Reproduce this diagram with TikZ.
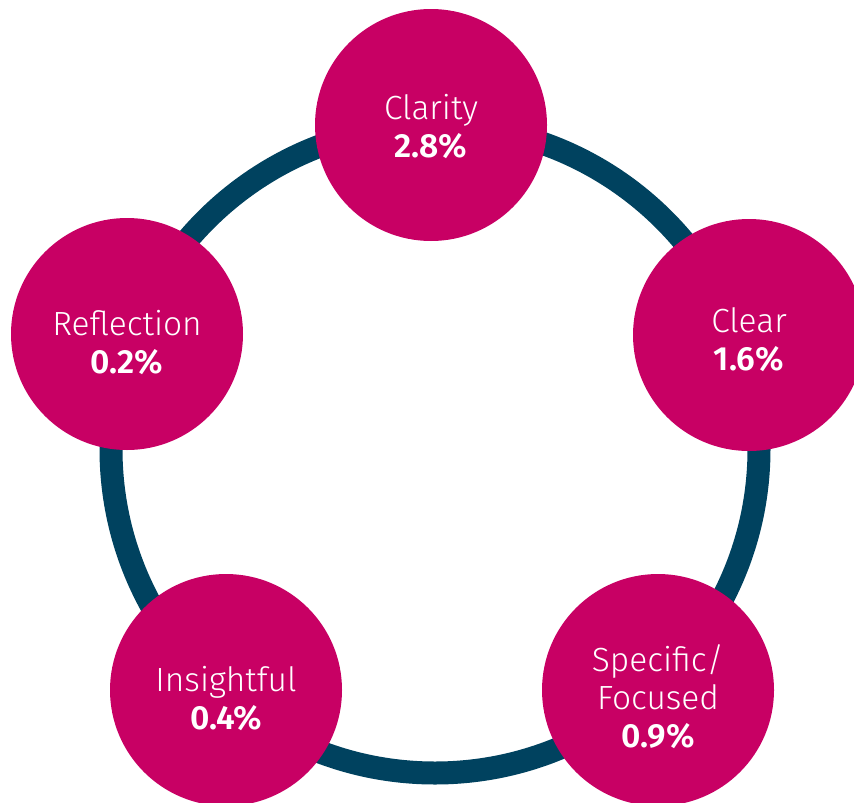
\documentclass[tikz,border=0pt]{standalone}
\usepackage{fontspec}
\setmainfont{Fira Sans Light}[BoldFont={Fira Sans SemiBold}]
\definecolor{pinkc}{HTML}{C80064}
\definecolor{ringc}{HTML}{00425F}
\begin{document}
\begin{tikzpicture}[x=1pt,y=-1pt]
\tikzset{
  bubble/.style={circle, fill=pinkc, minimum size=232pt, inner sep=0pt},
  lbl/.style={text=white, align=center, inner sep=0pt, font=\fontsize{33.5}{38}\selectfont}
}
\useasboundingbox (0,0) rectangle (854,803);
\coordinate (ctr) at (435,449);
\draw[ringc, line width=23pt] (ctr) circle[radius=324pt];
\node[bubble] (clarity) at (431,125) {};
\node[bubble] (clear) at (749,335) {};
\node[bubble] (reflection) at (127,334) {};
\node[bubble] (insightful) at (226,690) {};
\node[bubble] (specific) at (658,690) {};
\node[lbl] (tclarity) at ([yshift=-2pt]clarity.center) {Clarity\\\textbf{2.8\%}};
\node[lbl] (tclear) at ([yshift=-5pt]clear.center) {Clear\\\textbf{1.6\%}};
\node[lbl] (treflection) at ([yshift=-9pt]reflection.center) {Reflection\\\textbf{0.2\%}};
\node[lbl] (tinsightful) at ([yshift=-9pt]insightful.center) {Insightful\\\textbf{0.4\%}};
\node[lbl] (tspecific) at ([yshift=-7pt]specific.center) {Specific/\\Focused\\\textbf{0.9\%}};
\end{tikzpicture}
\end{document}
